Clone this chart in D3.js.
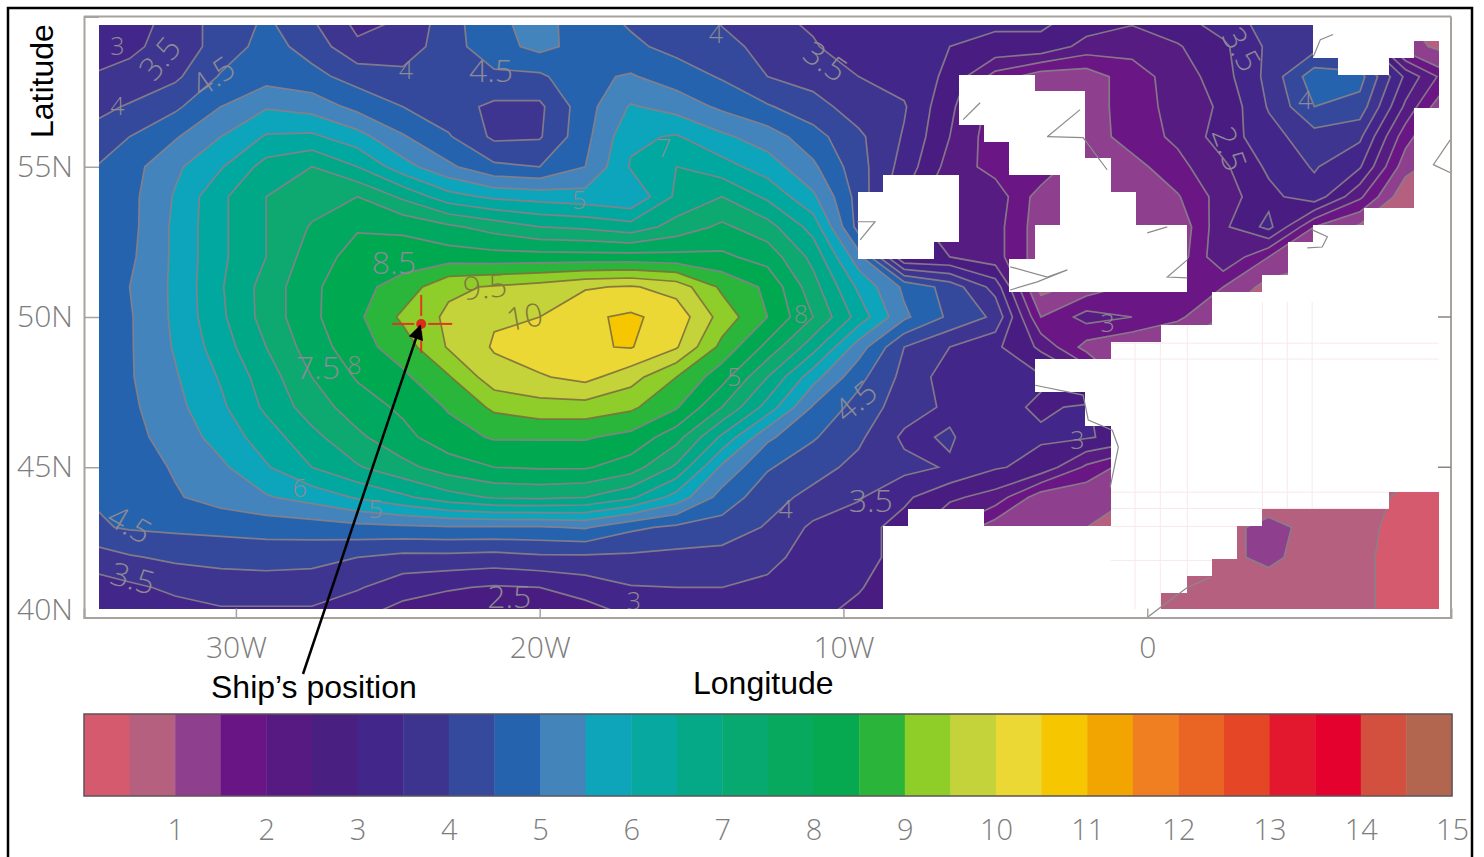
<!DOCTYPE html>
<html>
<head>
<meta charset="utf-8">
<style>
  html, body { margin: 0; padding: 0; background: #fff; }
  svg { display: block; }
</style>
<script src="https://cdn.jsdelivr.net/npm/d3@7"></script>
</head>
<body>
<div id="chart"></div>
<script>
// grid nodes of the wave height field
const lons = d3.range(-35, 10.5, 1.5);
const lats = d3.range(60, 39.5, -1);
const waveHeight = [
  [3.0,3.2,3.7,4.2,4.55,4.0,3.3,3.5,4.3,4.9,5.2,4.7,4.4,4.2,3.95,3.6,3.4,3.2,3.2,3.2,3.1,3.1,2.9,2.65,2.9,3.3,3.7,3.9,3.5,1.0,0.8],
  [3.2,3.4,3.7,4.2,4.7,4.3,3.6,3.7,4.3,4.8,5.15,4.8,4.6,4.35,4.1,3.9,3.55,3.2,3.2,3.0,2.9,2.9,2.3,2.15,2.45,2.9,3.6,3.8,3.6,1.2,0.8],
  [3.5,3.65,3.9,4.55,4.8,4.65,4.3,4.15,4.2,4.4,4.4,4.9,5.05,4.75,4.45,4.0,3.8,3.5,3.3,2.9,1.8,1.2,1.2,1.8,2.2,2.8,3.65,4.8,4.7,2.9,1.6],
  [3.8,4.05,4.4,5.0,5.45,5.3,4.85,4.5,4.2,3.9,3.9,4.8,5.55,5.3,4.9,4.55,4.2,3.75,3.55,2.6,1.8,1.5,1.2,1.8,2.15,2.6,3.55,4.5,4.3,2.4,0.8],
  [4.1,4.5,4.95,5.5,6.05,6.1,5.7,5.05,4.55,3.9,3.95,4.85,5.9,6.05,5.6,5.25,4.7,4.1,3.45,2.5,1.7,1.9,1.2,1.75,2.1,2.75,3.3,3.8,3.6,1.7,0.6],
  [4.4,4.8,5.4,5.95,6.7,7.0,6.5,5.7,5.1,4.6,4.5,5.0,6.05,6.5,6.2,5.75,5.1,4.2,3.3,2.3,1.8,1.9,1.0,1.3,1.85,2.4,3.1,3.55,3.05,1.2,0.6],
  [4.4,4.85,5.55,6.4,7.0,7.25,7.5,6.9,6.2,5.9,5.8,5.7,5.55,6.6,7.0,6.4,5.6,4.3,3.0,2.0,2.3,1.25,1.2,1.15,1.45,2.25,2.85,3.3,2.1,0.6,0.6],
  [4.4,4.85,5.6,6.4,7.0,7.55,7.95,7.9,7.6,7.3,7.0,6.9,6.7,7.2,7.6,7.2,6.3,4.3,3.0,2.0,2.2,1.2,1.0,1.0,1.1,2.4,3.15,1.5,0.9,0.5,0.5],
  [4.45,4.9,5.6,6.4,7.0,7.75,8.2,8.25,8.25,8.2,8.2,8.2,8.2,8.15,8.1,7.8,6.85,5.2,2.5,2.5,2.2,1.2,1.0,1.0,1.2,2.45,1.5,1.1,0.8,0.7,0.7],
  [4.45,5.0,5.6,6.45,7.2,7.9,8.35,8.7,9.4,9.55,9.7,9.95,10.05,9.8,8.9,8.4,7.2,5.9,4.9,4.3,3.3,0.8,1.2,1.6,1.9,1.5,0.8,0.8,0.8,0.7,0.7],
  [4.6,4.95,5.6,6.4,7.2,7.9,8.4,9.1,9.6,9.95,10.0,10.42,10.58,10.3,9.3,8.5,7.5,6.3,5.1,4.4,3.9,1.5,2.2,2.0,1.6,1.0,0.8,0.8,0.8,0.7,0.7],
  [4.6,4.95,5.55,6.25,7.0,7.75,8.3,8.75,9.55,10.05,10.3,10.45,10.53,10.05,8.85,7.85,6.7,5.25,4.0,3.5,3.1,2.4,1.3,1.0,0.9,0.8,0.8,0.8,0.8,0.7,0.7],
  [4.6,4.95,5.45,6.05,6.75,7.5,8.05,8.4,8.95,9.8,9.95,10.15,9.7,9.0,8.2,7.0,5.7,4.65,3.85,3.25,3.0,3.05,2.5,1.0,1.0,0.8,0.8,0.8,0.8,0.7,0.7],
  [4.6,4.9,5.35,5.9,6.6,7.25,7.75,8.1,8.55,9.1,9.3,9.3,9.1,8.55,7.5,6.3,4.95,4.3,3.75,3.4,3.1,2.95,3.05,2.5,1.0,0.8,0.8,0.8,0.8,0.7,0.7],
  [4.55,4.85,5.2,5.7,6.25,6.85,7.4,7.85,8.3,8.55,8.55,8.55,8.35,7.7,6.4,5.1,4.55,4.1,3.4,3.55,3.15,3.05,3.05,2.8,1.0,0.8,0.8,0.8,0.8,0.7,0.7],
  [4.5,4.75,5.05,5.4,5.95,6.5,6.95,7.35,7.75,8.0,8.05,8.05,7.75,6.9,5.4,4.55,4.2,3.85,3.65,3.45,3.05,2.85,1.9,1.2,1.0,0.8,0.8,0.8,0.8,0.7,0.7],
  [4.5,4.7,4.95,5.2,5.45,5.7,6.05,6.4,6.8,7.05,7.1,7.0,6.6,5.8,4.8,4.2,3.85,3.55,3.1,2.6,2.3,1.2,1.1,1.0,0.9,0.8,0.8,0.8,0.8,0.35,0.3],
  [4.4,4.55,4.6,4.65,4.7,4.75,4.85,4.9,4.95,4.95,4.95,5.05,4.6,4.4,4.3,3.95,3.4,3.2,2.8,2.0,1.2,1.1,1.0,0.9,0.9,0.9,1.1,0.9,0.65,0.3,0.3],
  [3.65,3.95,4.1,4.15,4.2,4.15,4.0,3.85,3.85,3.8,3.9,3.9,3.9,3.85,3.8,3.7,3.2,3.2,2.8,2.0,1.0,1.0,1.0,0.9,0.8,0.9,1.1,0.8,0.6,0.3,0.3],
  [3.3,3.4,3.6,3.75,3.75,3.75,3.55,3.2,3.05,2.95,3.0,3.22,3.47,3.5,3.5,3.35,3.15,3.05,2.6,1.0,1.0,1.0,0.9,0.8,0.8,0.8,0.8,0.8,0.6,0.3,0.3],
  [3.0,3.1,3.25,3.35,3.35,3.35,3.05,2.75,2.6,2.45,2.5,2.7,3.0,3.2,3.2,3.15,3.1,2.8,2.4,1.0,1.0,1.0,0.9,0.8,0.8,0.8,0.8,0.8,0.6,0.3,0.3]
];

// colour per 0.5 m band, from 0 to 15
const bandColors = [
  "#d65a6e","#b5607f","#8e3f8e","#6a1585","#561a82","#4a1f82","#43268a","#3d3490","#354a9c","#2563ae",
  "#4384bb","#0ea5bb","#06a8a0","#05a887","#07a970","#06a95e","#06a850","#2ab53a","#8fce29","#c5d33b",
  "#ecd835","#f6c600","#f2a500","#ef7f21","#ea6524","#e54625","#e3182e","#e5012e","#d4503e","#b26650"
];
const barTicks = d3.range(1, 16);
const lonTicks = [-30, -20, -10, 0];
const latTicks = [55, 50, 45, 40];

// land cells of the model grid: [row, first column, last column]
const landSpans = [
  [0,48,52],[1,48,51],[2,49,50],[3,34,36],[4,34,38],[5,34,38],[5,52,52],[6,35,38],[6,52,52],
  [7,36,38],[7,52,52],[8,36,39],[8,52,52],[9,31,33],[9,38,39],[9,52,52],[10,30,33],[10,38,40],[10,52,52],
  [11,30,33],[11,38,40],[11,50,52],[12,30,33],[12,37,42],[12,48,52],[13,30,32],[13,37,42],[13,47,52],
  [14,36,42],[14,47,52],[15,36,42],[15,46,52],[16,44,52],[17,44,52],[18,42,52],[19,40,52],[20,37,52],
  [21,37,52],[22,39,52],[23,39,52],[24,40,52],[25,40,52],[26,40,52],[27,40,52],[28,40,50],
  [29,32,34],[29,40,45],[30,31,44],[31,31,44],[32,31,43],[33,31,42],[34,31,41]
];

const coastlines = [
  [[-3.29,56.0],[-2.21,56.9]],
  [[-3.29,56.0],[-2.11,55.97],[-1.32,54.9]],
  [[-4.51,51.67],[-3.29,51.33],[-2.63,51.57],[-3.62,51.17],[-4.51,50.9]],
  [[1.32,51.9],[0.66,51.33],[1.32,51.3]],
  [[0,52.8],[0.66,53.0]],
  [[5.43,52.9],[5.93,52.67],[5.76,52.33],[5.27,52.3]],
  [[5.47,58.67],[5.7,59.23],[6.12,59.4]],
  [[9.98,55.9],[9.42,55.07],[9.98,54.8]],
  [[-9.45,52.57],[-8.96,53.17],[-9.55,53.17]],
  [[-6.06,56.57],[-5.5,57.13]],
  [[-3.69,47.73],[-2.11,47.4],[-1.94,46.57],[-1.15,46.23],[-0.95,45.67],[-1.22,44.33]],
  [[0,40],[0.43,40.33],[1.32,41],[2.07,41.33]]
];

// faint leftover grid lines in the white land part
const ghostLons = [-0.4, 0.43, 1.32, 3.79, 4.61, 5.43];
const ghostLats = [49.13, 48.6, 44.17, 43.63, 43.03, 41.9];

// contour labels: text, lon, lat, rotation
const contourLabels = [
  ["3",-33.9,59.0,0],["3.5",-32.5,58.6,-50],["4",-33.9,57.0,0],["4.5",-30.75,58.0,-35],
  ["4",-24.4,58.2,0],["4.5",-21.6,58.2,0],["4",-14.2,59.4,0],["3.5",-10.6,58.5,35],
  ["2.5",2.7,55.6,70],["3.5",3.1,58.9,60],["4",5.2,57.2,0],["9.5",-21.8,51.0,-5],
  ["10",-20.5,50.0,-10],["4.5",-33.5,43.1,30],["3.5",-33.4,41.3,15],["2.5",-21.0,40.7,0],
  ["3",-16.9,40.55,0],["3.5",-9.1,43.9,0],["4",-11.9,43.6,0],["4.5",-9.6,47.2,-40],
  ["3",-2.3,45.9,0],["5",-13.6,48.0,0],["5",-25.4,43.6,0],["8",-26.1,48.4,0],
  ["7.5",-27.3,48.3,0],["6",-27.9,44.3,0],["7",-15.9,55.6,0],["5",-18.7,53.9,0],
  ["8",-11.4,50.1,0],["3",-1.3,49.8,0],["8.5",-24.8,51.8,0]
];

const shipLon = -23.9;
const shipLat = 49.77;

const width = 1484, height = 857;
const grey = "#7d7d7d";
const labelFont = "'Open Sans', sans-serif";
const blackFont = "'Liberation Sans', Arial, sans-serif";

const svg = d3.select("#chart").append("svg")
  .attr("width", width)
  .attr("height", height)
  .attr("viewBox", `0 0 ${width} ${height}`);

const x = d3.scaleLinear().domain([-35, 10]).range([84, 1451]);
const y = d3.scaleLinear().domain([40, 60]).range([617.5, 16.5]);

// model grid cells, edges in degrees
const cellLon = d3.scaleLinear().domain([0, 53]).range([-34.51, 9.62]);
const cellLat = d3.scaleLinear().domain([0, 35]).range([59.73, 40.27]);
const cellX = i => Math.round(x(cellLon(i)));
const cellY = i => Math.round(y(cellLat(i)));

const defs = svg.append("defs");
defs.append("clipPath").attr("id", "map-clip").append("rect")
  .attr("x", cellX(0))
  .attr("y", cellY(0))
  .attr("width", cellX(53) - cellX(0))
  .attr("height", cellY(35) - cellY(0));
defs.append("filter").attr("id", "soft")
  .attr("x", "-2%").attr("y", "-2%").attr("width", "104%").attr("height", "104%")
  .append("feGaussianBlur").attr("stdDeviation", 0.6);

const landClip = defs.append("clipPath").attr("id", "land-clip");
function landRects(sel) {
  sel.selectAll("rect")
    .data(landSpans)
    .enter().append("rect")
    .attr("x", d => cellX(d[1]))
    .attr("y", d => cellY(d[0]))
    .attr("width", d => cellX(d[2] + 1) - cellX(d[1]))
    .attr("height", d => cellY(d[0] + 1) - cellY(d[0]))
    .attr("shape-rendering", "crispEdges");
}
landRects(landClip);

// --- Filled contours ---
const levels = d3.range(0, 15, 0.5);
const contours = d3.contours()
  .size([lons.length, lats.length])
  .thresholds(levels)
  (waveHeight.flat());

// contour coordinates are grid indices, offset by half a cell
const lonOf = d3.scaleLinear().domain([0.5, lons.length - 0.5]).range([lons[0], lons[lons.length - 1]]);
const latOf = d3.scaleLinear().domain([0.5, lats.length - 0.5]).range([lats[0], lats[lats.length - 1]]);
const path = d3.geoPath(d3.geoTransform({
  point(a, b) { this.stream.point(x(lonOf(a)), y(latOf(b))); }
}));

const map = svg.append("g").attr("clip-path", "url(#map-clip)");
const field = map.append("g").attr("filter", "url(#soft)");

field.append("g").selectAll("path")
  .data(contours)
  .enter().append("path")
  .attr("d", path)
  .attr("fill", (d, i) => bandColors[i]);

field.append("g").selectAll("path")
  .data(contours.filter(d => d.value > 0 && d.coordinates.length))
  .enter().append("path")
  .attr("d", path)
  .attr("fill", "none")
  .attr("stroke", d => d.value >= 9 ? "#7f6f3c" : "#8a7f8a")
  .attr("stroke-width", 1.7)
  .attr("stroke-opacity", 0.9);

// --- Land ---
map.append("g").attr("fill", "#fff").call(landRects);

const ghost = map.append("g")
  .attr("clip-path", "url(#land-clip)")
  .attr("stroke", "#f8e8ea")
  .attr("stroke-width", 1);
ghost.selectAll(".glon").data(ghostLons).enter().append("line")
  .attr("class", "glon")
  .attr("x1", d => x(d)).attr("x2", d => x(d))
  .attr("y1", y(50.5)).attr("y2", y(40));
ghost.selectAll(".glat").data(ghostLats).enter().append("line")
  .attr("class", "glat")
  .attr("x1", x(-1.2)).attr("x2", x(9.6))
  .attr("y1", d => y(d)).attr("y2", d => y(d));

// --- Coastlines ---
const coastLine = d3.line().x(d => x(d[0])).y(d => y(d[1]));
svg.append("g").selectAll("path")
  .data(coastlines)
  .enter().append("path")
  .attr("d", coastLine)
  .attr("fill", "none")
  .attr("stroke", "#8b8b8b")
  .attr("stroke-width", 1.2);

// --- Contour labels ---
map.append("g").selectAll("text")
  .data(contourLabels)
  .enter().append("text")
  .attr("transform", d => `translate(${x(d[1])},${y(d[2])}) rotate(${d[3]})`)
  .attr("text-anchor", "middle")
  .attr("dy", "0.35em")
  .attr("fill", d => +d[0] >= 9 ? "#7f7a3c" : "#8d8a96")
  .style("font-family", labelFont)
  .style("font-weight", 300)
  .style("font-size", d => d[0].length > 1 ? "32px" : "25px")
  .text(d => d[0]);

// --- Axes ---
const frameColor = "#a8a29e";
const fmtLon = d => d === 0 ? "0" : Math.abs(d) + "W";
const fmtLat = d => d + "N";

const xAxis = svg.append("g")
  .attr("transform", `translate(0,${y(40)})`)
  .call(d3.axisBottom(x).tickValues(lonTicks).tickFormat(fmtLon).tickSize(-9).tickPadding(16));
const yAxis = svg.append("g")
  .attr("transform", `translate(${x(-35)},0)`)
  .call(d3.axisLeft(y).tickValues(latTicks).tickFormat(fmtLat).tickSize(-15).tickPadding(11));
[xAxis, yAxis].forEach(ax => {
  ax.select(".domain").attr("stroke", frameColor).attr("stroke-width", 2);
  ax.selectAll(".tick line").attr("stroke", frameColor).attr("stroke-width", 1.5);
  ax.selectAll("text")
    .attr("fill", grey)
    .style("font-family", labelFont)
    .style("font-weight", 300)
    .style("font-size", "30px");
});
xAxis.selectAll("text").attr("y", 19).attr("dy", "0.71em");
yAxis.selectAll(".tick").filter(d => d === 40).select("line").remove();
yAxis.selectAll(".tick").filter(d => d === 40).select("text").attr("dy", "0.05em");

svg.append("line").attr("x1", x(-35)).attr("x2", x(10)).attr("y1", y(60)).attr("y2", y(60))
  .attr("stroke", frameColor).attr("stroke-width", 2);
svg.append("line").attr("x1", x(10)).attr("x2", x(10)).attr("y1", y(60)).attr("y2", y(40))
  .attr("stroke", frameColor).attr("stroke-width", 2);
svg.append("g").selectAll("line").data([50, 45]).enter().append("line")
  .attr("x1", x(10) - 13).attr("x2", x(10))
  .attr("y1", d => y(d)).attr("y2", d => y(d))
  .attr("stroke", "#8a8580").attr("stroke-width", 1.5);

// --- Ship marker ---
const sx = x(shipLon), sy = y(shipLat);
const cross = [[-29, -7, 0, 0], [7, 31, 0, 0], [0, 0, -29, -8], [0, 0, 7, 29]];
svg.append("g").selectAll("line").data(cross).enter().append("line")
  .attr("x1", d => sx + d[0]).attr("x2", d => sx + d[1])
  .attr("y1", d => sy + d[2]).attr("y2", d => sy + d[3])
  .attr("stroke", "#dc3a1e").attr("stroke-width", 2);
svg.append("circle").attr("cx", sx).attr("cy", sy).attr("r", 5).attr("fill", "#e02a1c");

defs.append("marker").attr("id", "arrow")
  .attr("viewBox", "0 0 10 10").attr("refX", 9).attr("refY", 5)
  .attr("markerWidth", 7).attr("markerHeight", 6).attr("orient", "auto")
  .append("path").attr("d", "M0,0 L10,5 L0,10 Z").attr("fill", "#000");
svg.append("line")
  .attr("x1", 303).attr("y1", 674).attr("x2", sx - 1).attr("y2", sy + 2)
  .attr("stroke", "#000").attr("stroke-width", 2.5)
  .attr("marker-end", "url(#arrow)");

// --- Black titles ---
function blackText(t, px, py, rot) {
  svg.append("text")
    .attr("transform", `translate(${px},${py}) rotate(${rot})`)
    .attr("fill", "#000")
    .style("font-family", blackFont)
    .style("font-size", "32px")
    .text(t);
}
blackText("Latitude", 53, 138, -90);
blackText("Ship\u2019s position", 211, 698, 0);
blackText("Longitude", 693, 694, 0);

// --- Colour bar ---
const barX = d3.scaleLinear().domain([0, 15]).range([84, 1452]);
const barTop = 714, barBottom = 796;
svg.append("g").selectAll("rect")
  .data(bandColors)
  .enter().append("rect")
  .attr("x", (d, i) => barX(i * 0.5))
  .attr("y", barTop)
  .attr("width", barX(0.5) - barX(0) + 0.4)
  .attr("height", barBottom - barTop)
  .attr("fill", d => d);
svg.append("rect")
  .attr("x", barX(0)).attr("y", barTop)
  .attr("width", barX(15) - barX(0)).attr("height", barBottom - barTop)
  .attr("fill", "none").attr("stroke", "#5c5458").attr("stroke-width", 1.5);

const barAxis = svg.append("g")
  .attr("transform", `translate(0,${barBottom})`)
  .call(d3.axisBottom(barX).tickValues(barTicks).tickSize(0).tickPadding(23));
barAxis.select(".domain").remove();
barAxis.selectAll("text")
  .attr("fill", grey)
  .style("font-family", labelFont)
  .style("font-weight", 300)
  .style("font-size", "29px");

// --- Outer page frame ---
svg.append("path")
  .attr("d", `M8,${height + 4} V8 H1472 V${height + 4}`)
  .attr("fill", "none")
  .attr("stroke", "#000")
  .attr("stroke-width", 2.5);
</script>
</body>
</html>
